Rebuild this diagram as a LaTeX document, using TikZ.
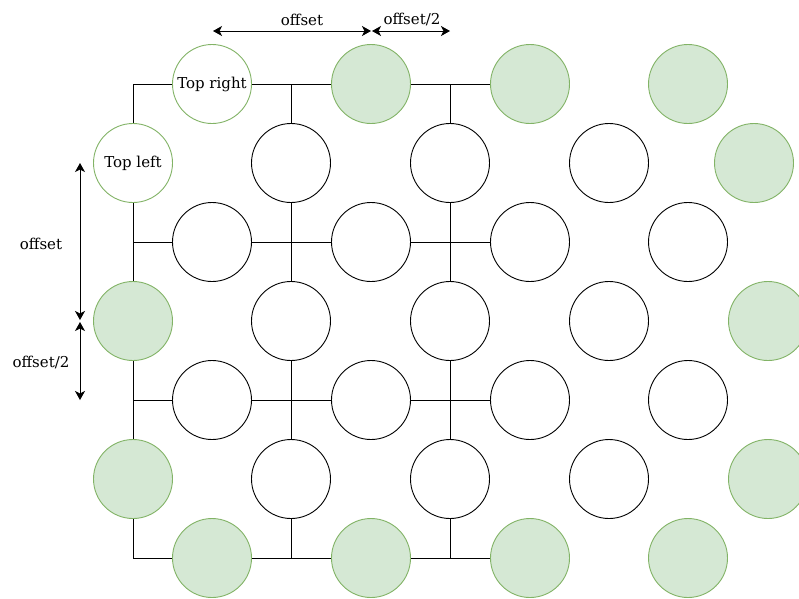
\documentclass[tikz,border=0pt]{standalone}
\usepackage{fontspec}
\setmainfont{DejaVu Serif}
\usetikzlibrary{arrows.meta, calc, backgrounds}
\definecolor{gruenrand}{HTML}{82B366}
\definecolor{gruenfill}{HTML}{D5E8D4}

\tikzset{
  kreis/.style={circle, draw=black, fill=white, minimum size=79pt, inner sep=0pt, line width=0.9pt},
  gruen/.style={kreis, draw=gruenrand, fill=gruenfill},
  ecke/.style={kreis, draw=gruenrand, fill=white},
  gitter/.style={line width=1pt, black},
  mass/.style={{Stealth[length=9pt,width=10pt,inset=2.5pt]}-{Stealth[length=9pt,width=10pt,inset=2.5pt]}, line width=1pt},
  beschr/.style={font=\fontsize{15}{17}\selectfont, inner sep=0pt}
}

\begin{document}
\begin{tikzpicture}[x=1pt, y=-1pt]
      \useasboundingbox (0,0) rectangle (799,598);

      % --- Ecken des Gitters ---
      \coordinate (cTL) at (133,84);
      \coordinate (cBL) at (133,558);

      % --- Zeile 1 ---
      \node[ecke, beschr] (n-1-2) at (212,84) {Top right};
      \node[gruen] (n-1-4) at (371,84) {};
      \node[gruen] (n-1-6) at (530,84) {};
      \node[gruen] (n-1-8) at (688,84) {};

      % --- Zeile 2 ---
      \node[ecke, beschr] (n-2-1) at (133,163) {Top left};
      \node[kreis] (n-2-3) at (291,163) {};
      \node[kreis] (n-2-5) at (450,163) {};
      \node[kreis] (n-2-7) at (609,163) {};
      \node[gruen] (n-2-9) at (754,163) {};

      % --- Zeile 3 ---
      \foreach \x/\c in {212/2, 371/4, 530/6, 688/8}
        \node[kreis] (n-3-\c) at (\x,242) {};

      % --- Zeile 4 ---
      \node[gruen] (n-4-1) at (133,321) {};
      \node[kreis] (n-4-3) at (291,321) {};
      \node[kreis] (n-4-5) at (450,321) {};
      \node[kreis] (n-4-7) at (609,321) {};
      \node[gruen] (n-4-9) at (768,321) {};

      % --- Zeile 5 ---
      \foreach \x/\c in {212/2, 371/4, 530/6, 688/8}
        \node[kreis] (n-5-\c) at (\x,400) {};

      % --- Zeile 6 ---
      \node[gruen] (n-6-1) at (133,479) {};
      \node[kreis] (n-6-3) at (291,479) {};
      \node[kreis] (n-6-5) at (450,479) {};
      \node[kreis] (n-6-7) at (609,479) {};
      \node[gruen] (n-6-9) at (768,479) {};

      % --- Zeile 7 ---
      \foreach \x/\c in {212/2, 371/4, 530/6, 688/8}
        \node[gruen] (n-7-\c) at (\x,558) {};

      % Gitterlinien hinter den Kreisen
      \begin{scope}[on background layer]
        \draw[gitter] (n-1-6.center) -- (cTL) -- (cBL) -- (n-7-6.center);
        \draw[gitter] (cTL |- n-3-2) -- (n-3-6.center);
        \draw[gitter] (cTL |- n-5-2) -- (n-5-6.center);
        \draw[gitter] (n-2-3 |- cTL) -- (n-6-3 |- cBL);
        \draw[gitter] (n-2-5 |- cTL) -- (n-6-5 |- cBL);
      \end{scope}

      % Masspfeile
      \coordinate (mo1) at (213,31);
      \coordinate (mo2) at (371,31);
      \coordinate (mo3) at (372,31);
      \coordinate (mo4) at (450,31);
      \coordinate (ml1) at (80,163);
      \coordinate (ml2) at (80,320);
      \coordinate (ml3) at (80,322);
      \coordinate (ml4) at (80,400);

      \draw[mass] (mo1) -- (mo2);
      \draw[mass] (mo3) -- (mo4);
      \draw[mass] (ml1) -- (ml2);
      \draw[mass] (ml3) -- (ml4);

      \node[beschr] (t-offset-o) at (302,20) {offset};
      \node[beschr] (t-halb-o) at (412,19) {offset/2};
      \node[beschr] (t-offset-l) at (41,244) {offset};
      \node[beschr] (t-halb-l) at (41,362) {offset/2};
    \end{tikzpicture}
\end{document}
